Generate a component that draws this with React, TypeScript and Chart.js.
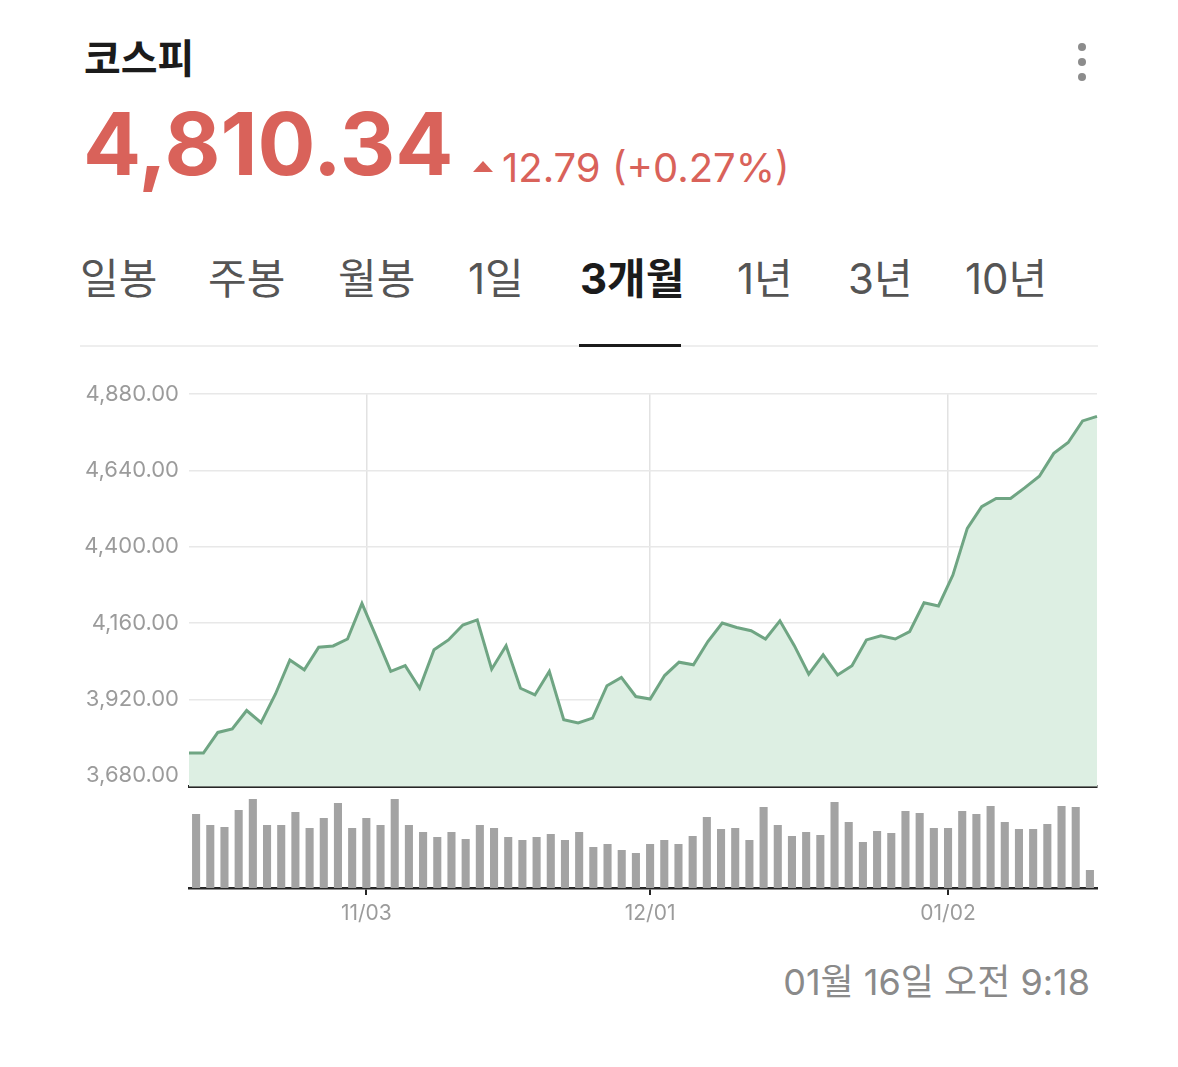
import React, { useEffect, useRef } from "react";
import { Chart, registerables } from "chart.js";

Chart.register(...registerables);

const dates = [
  "10/16", "10/17", "10/20", "10/21", "10/22", "10/23", "10/24", "10/27", "10/28", "10/29", "10/30", "10/31",
  "11/03", "11/04", "11/05", "11/06", "11/07", "11/10", "11/11", "11/12", "11/13", "11/14", "11/17", "11/18",
  "11/19", "11/20", "11/21", "11/24", "11/25", "11/26", "11/27", "11/28",
  "12/01", "12/02", "12/03", "12/04", "12/05", "12/08", "12/09", "12/10", "12/11", "12/12", "12/15", "12/16",
  "12/17", "12/18", "12/19", "12/22", "12/23", "12/24", "12/26", "12/29", "12/30",
  "01/02", "01/05", "01/06", "01/07", "01/08", "01/09", "01/12", "01/13", "01/14", "01/15", "01/16",
];

const closes = [
  3751, 3751, 3816, 3827, 3885, 3847, 3937, 4044, 4013, 4084,
  4088, 4110, 4222, 4116, 4008, 4026, 3955, 4076, 4107, 4154,
  4170, 4015, 4089, 3955, 3934, 4008, 3856, 3846, 3861, 3963,
  3989, 3929, 3921, 3995, 4037, 4029, 4102, 4160, 4146, 4136,
  4110, 4167, 4089, 3999, 4060, 3997, 4026, 4107, 4120, 4110,
  4133, 4224, 4214, 4311, 4458, 4526, 4552, 4552, 4586, 4622,
  4694, 4728, 4796, 4810.34,
];

const volumes = [
  74, 63, 61, 78, 89, 63, 63, 76, 60, 70,
  85, 60, 70, 63, 89, 63, 56, 51, 56, 49,
  63, 60, 51, 48, 51, 54, 48, 56, 41, 44,
  38, 35, 44, 48, 44, 52, 71, 59, 60, 48,
  81, 63, 52, 56, 53, 86, 66, 46, 57, 55,
  77, 75, 60, 60, 77, 74, 82, 66, 59, 59,
  64, 82, 81, 18,
];

const priceTicks = [3680, 3920, 4160, 4400, 4640, 4880];
const xTickLabels = ["11/03", "12/01", "01/02"];
const tabs = ["일봉", "주봉", "월봉", "1일", "3개월", "1년", "3년", "10년"];
const tabLefts = [80, 208, 338, 468, 580, 737, 848, 965];
const activeTab = "3개월";

const FONT = '"Inter", "Noto Sans CJK KR", sans-serif';
const RED = "#d9625a";

function PriceChart() {
  const ref = useRef<HTMLCanvasElement | null>(null);
  useEffect(() => {
    if (!ref.current) return;
    const chart = new Chart(ref.current, {
      type: "line",
      data: {
        labels: dates,
        datasets: [
          {
            data: closes,
            borderColor: "#6fa583",
            borderWidth: 3,
            backgroundColor: "#ddefe3",
            fill: "start",
            pointRadius: 0,
            tension: 0,
            xAxisID: "x",
            yAxisID: "y",
          },
        ],
      },
      options: {
        responsive: false,
        animation: false,
        layout: { padding: { left: 0, right: 13, top: 0, bottom: 0 } },
        plugins: { legend: { display: false }, tooltip: { enabled: false } },
        scales: {
          x: { type: "category", display: false, offset: false },
          xg: {
            type: "category",
            position: "bottom",
            offset: true,
            afterFit: (s: any) => {
              s.height = 0;
            },
            ticks: { display: false },
            grid: {
              offset: false,
              drawTicks: false,
              lineWidth: 1.5,
              color: (ctx: any) =>
                ctx.tick && xTickLabels.includes(dates[ctx.index]) ? "#e2e2e2" : "rgba(0,0,0,0)",
            },
            border: { display: true, color: "#262626", width: 3 },
          },
          y: {
            min: 3645,
            max: 4880,
            afterBuildTicks: (s: any) => {
              s.ticks = priceTicks.map((v) => ({ value: v }));
            },
            afterFit: (s: any) => {
              s.width = 129;
            },
            ticks: {
              padding: 10,
              color: "#9b9b9b",
              font: { family: FONT, size: 22 },
              callback: (v: any) =>
                Number(v).toLocaleString("en-US", { minimumFractionDigits: 2, maximumFractionDigits: 2 }),
            },
            grid: { drawTicks: false, color: "#e8e8e8", lineWidth: 1.5 },
            border: { display: false },
          },
        },
      },
    });
    return () => chart.destroy();
  }, []);
  return <canvas ref={ref} width={1050} height={439} />;
}

function VolumeChart() {
  const ref = useRef<HTMLCanvasElement | null>(null);
  useEffect(() => {
    if (!ref.current) return;
    const chart = new Chart(ref.current, {
      type: "bar",
      data: {
        labels: dates,
        datasets: [
          {
            data: volumes,
            backgroundColor: "#a3a3a3",
            categoryPercentage: 1,
            barPercentage: 0.57,
          },
        ],
      },
      options: {
        responsive: false,
        animation: false,
        layout: { padding: { left: 129, right: 13, top: 7, bottom: 0 } },
        plugins: { legend: { display: false }, tooltip: { enabled: false } },
        scales: {
          x: {
            type: "category",
            offset: true,
            afterFit: (s: any) => {
              s.height = 52;
            },
            ticks: {
              autoSkip: false,
              maxRotation: 0,
              padding: 6,
              color: "#9b9b9b",
              font: { family: FONT, size: 21 },
              callback: (_v: any, i: number) => (xTickLabels.includes(dates[i]) ? dates[i] : ""),
            },
            grid: {
              offset: false,
              drawOnChartArea: false,
              drawTicks: true,
              tickLength: 7,
              lineWidth: 2,
              color: (ctx: any) =>
                ctx.tick && xTickLabels.includes(dates[ctx.index]) ? "#262626" : "rgba(0,0,0,0)",
            },
            border: { display: true, color: "#262626", width: 2.5 },
          },
          y: { display: false, min: 0, max: 91 },
        },
      },
    });
    return () => chart.destroy();
  }, []);
  return <canvas ref={ref} width={1050} height={150} />;
}

export default function App() {
  const abs = (s: React.CSSProperties): React.CSSProperties => ({ position: "absolute", lineHeight: 1, whiteSpace: "nowrap", ...s });
  return (
    <div style={{ position: "absolute", left: 0, top: 0, width: 1178, height: 1067, background: "#fff", fontFamily: FONT }}>
      <div style={abs({ left: 84, top: 39, fontSize: 40, fontWeight: 700, color: "#1b1b1b" })}>코스피</div>
      {[47, 62, 77].map((y) => (
        <div key={y} style={{ position: "absolute", left: 1078, top: y - 4, width: 8, height: 8, borderRadius: 4, background: "#8c8c8c" }} />
      ))}
      <div style={abs({ left: 83, top: 101, fontSize: 86, fontWeight: 700, color: RED })}>4,810.34</div>
      <div
        style={{
          position: "absolute",
          left: 473,
          top: 161,
          width: 0,
          height: 0,
          borderLeft: "10.5px solid transparent",
          borderRight: "10.5px solid transparent",
          borderBottom: `11px solid ${RED}`,
        }}
      />
      <div style={abs({ left: 502, top: 148, fontSize: 40, fontWeight: 400, color: RED })}>12.79 (+0.27%)</div>
      {tabs.map((t, i) => (
        <div
          key={t}
          style={abs({
            left: tabLefts[i],
            top: 258,
            fontSize: 42,
            fontWeight: t === activeTab ? 700 : 400,
            color: t === activeTab ? "#1b1b1b" : "#555555",
          })}
        >
          {t}
        </div>
      ))}
      <div style={{ position: "absolute", left: 80, top: 345, width: 1018, height: 2, background: "#eeeeee" }} />
      <div style={{ position: "absolute", left: 579, top: 344, width: 102, height: 3, background: "#1b1b1b" }} />
      <div style={{ position: "absolute", left: 60, top: 371 }}>
        <PriceChart />
      </div>
      <div style={{ position: "absolute", left: 60, top: 790 }}>
        <VolumeChart />
      </div>
      <div style={abs({ right: 88, top: 964, fontSize: 36, color: "#8a8a8a" })}>01월 16일 오전 9:18</div>
    </div>
  );
}
